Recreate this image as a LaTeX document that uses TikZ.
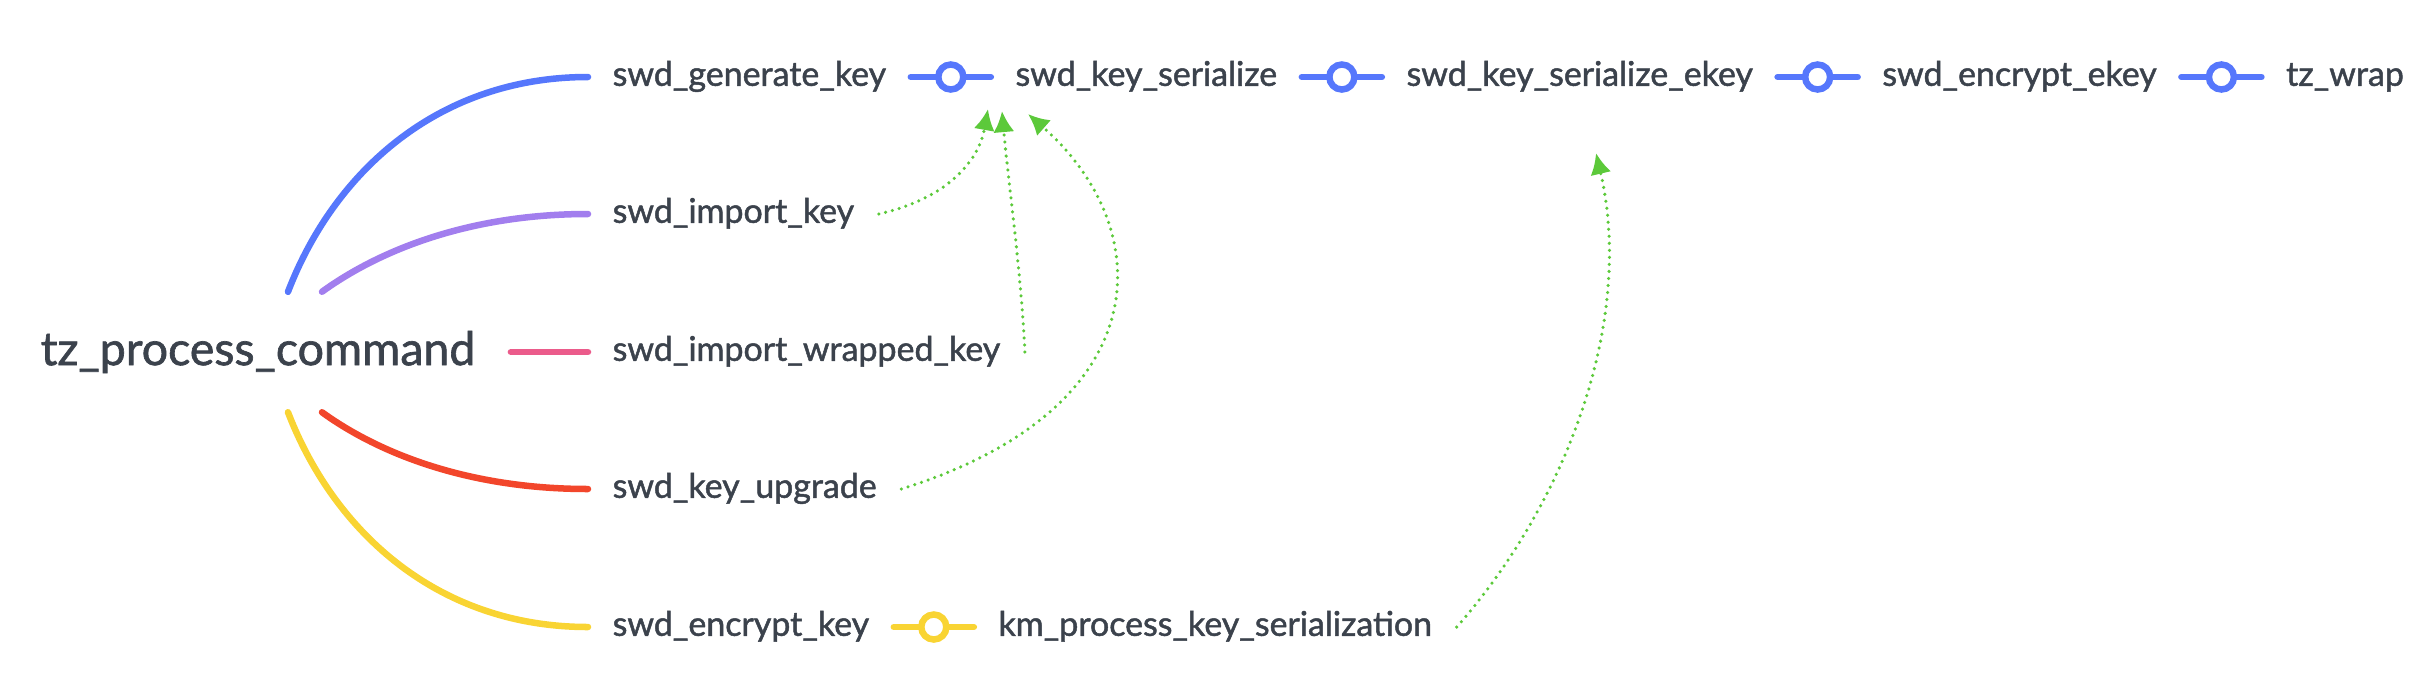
\documentclass[tikz,border=0pt]{standalone}
\usepackage{fontspec}
\setmainfont{Lato}[FakeBold=1.4]
\usetikzlibrary{arrows.meta,positioning,calc}
\definecolor{txtgray}{HTML}{3B424C}
\definecolor{lineblue}{HTML}{5677FC}
\definecolor{linepurple}{HTML}{A27EEE}
\definecolor{linepink}{HTML}{EB5B8B}
\definecolor{linered}{HTML}{F2462B}
\definecolor{lineyellow}{HTML}{F9D433}
\definecolor{refgreen}{HTML}{5CC93A}

\begin{document}
\begin{tikzpicture}[x=0.01cm, y=-0.01cm, >=Latex,
    every node/.style={font=\fontsize{9.65}{11}\selectfont, text=txtgray},
    topic/.style={anchor=west, inner xsep=0.24cm, inner ysep=0pt, text height=7pt, text depth=2pt},
    branch/.style={line width=1.85pt, line cap=round},
    ring/.style={circle, draw=#1, fill=white, line width=1.85pt, minimum size=0.25cm, inner sep=0pt},
    relarrow/.style={-{Latex[length=6pt,width=6pt]}, draw=refgreen, line width=1pt,
        line cap=round, dash pattern=on 0pt off 2pt}]
    \useasboundingbox (0,0) rectangle (2414,681);

    \node[font=\fontsize{13.2}{15}\selectfont, minimum height=1.19cm, inner xsep=0.35cm, inner ysep=0pt] (root) at (258,352) {tz\_process\_command};

    \node[topic] (gen) at (588,77) {swd\_generate\_key};
    \node[topic, right=0.8cm of gen] (ser) {swd\_key\_serialize};
    \node[topic, right=0.8cm of ser] (sek) {swd\_key\_serialize\_ekey};
    \node[topic, right=0.8cm of sek] (enc) {swd\_encrypt\_ekey};
    \node[topic, right=0.8cm of enc] (wrap) {tz\_wrap};
    \node[topic] (imp) at (588,214) {swd\_import\_key};
    \node[topic] (wrk) at (588,352) {swd\_import\_wrapped\_key};
    \node[topic] (upg) at (588,489) {swd\_key\_upgrade};
    \node[topic] (enk) at (588,627) {swd\_encrypt\_key};
    \node[topic, right=0.8cm of enk] (kms) {km\_process\_key\_serialization};

    \draw[branch, draw=lineblue] ($(root.north)+(30,0)$) .. controls +(47,-122) and +(-148,0) .. (gen.west);
    \draw[branch, draw=linepurple] ($(root.north)+(64,0)$) .. controls +(58,-42) and +(-118,0) .. (imp.west);
    \draw[branch, draw=linepink] (root.east) -- (wrk.west);
    \draw[branch, draw=linered] ($(root.south)+(64,0)$) .. controls +(58,42) and +(-118,0) .. (upg.west);
    \draw[branch, draw=lineyellow] ($(root.south)+(30,0)$) .. controls +(47,122) and +(-148,0) .. (enk.west);

    \foreach \a/\b in {gen/ser, ser/sek, sek/enc, enc/wrap}
        \draw[branch, draw=lineblue] (\a.east) -- node[ring=lineblue] (r\a) {} (\b.west);
    \draw[branch, draw=lineyellow] (enk.east) -- node[ring=lineyellow] (renk) {} (kms.west);

    \coordinate (tipA) at (988,109);
    \coordinate (tipB) at (1002,111);
    \coordinate (tipC) at (1028,114);
    \coordinate (tipD) at (1596,153);
    \draw[relarrow] (imp.east) .. controls +(63,-14) and +(-10,56) .. (tipA);
    \draw[relarrow] (wrk.east) .. controls +(-4,-83) and +(6,69) .. (tipB);
    \draw[relarrow] (upg.east) .. controls +(257,-80) and +(132,116) .. (tipC);
    \draw[relarrow] (kms.east) .. controls +(110,-125) and +(39,167) .. (tipD);
\end{tikzpicture}
\end{document}
